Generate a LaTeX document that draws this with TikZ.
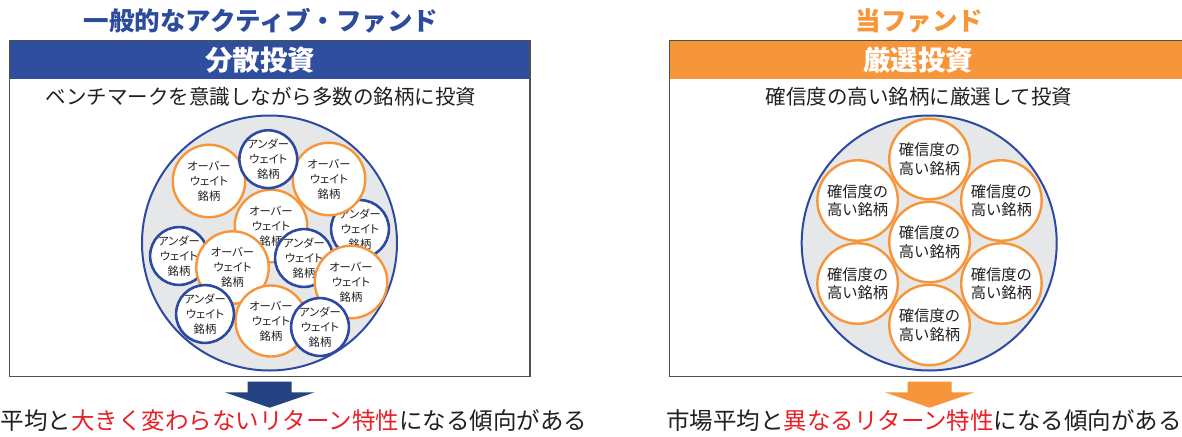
\documentclass[tikz,border=0pt]{standalone}
\usepackage{fontspec}
\setmainfont{Noto Sans CJK JP}
\newfontfamily\cjkp{Noto Sans CJK JP}[RawFeature=+palt]
\definecolor{hblue}{RGB}{47,78,158}
\definecolor{tblue}{RGB}{44,76,155}
\definecolor{ablue}{RGB}{37,66,130}
\definecolor{cblue}{RGB}{45,74,160}
\definecolor{oorange}{RGB}{247,149,58}
\definecolor{cgray}{RGB}{230,231,232}
\definecolor{tred}{RGB}{232,32,40}
\definecolor{frame}{RGB}{80,80,80}
\definecolor{txt}{RGB}{35,31,32}
\begin{document}
\begin{tikzpicture}[x=1pt,y=-1pt,
  framebox/.style={draw=frame, line width=1.3pt},
  ttl/.style={font=\bfseries\fontsize{25.5}{30}\selectfont, inner sep=0},
  hdr/.style={font=\bfseries\fontsize{27.5}{32}\selectfont, text=white, inner sep=0},
  sub/.style={font=\fontsize{20.5}{24}\selectfont, text=txt, inner sep=0},
  res/.style={font=\fontsize{23.5}{28}\selectfont, text=txt, inner sep=0},
  bigc/.style={circle, draw=cblue, fill=cgray, line width=2pt, minimum size=255, inner sep=0},
  under/.style={circle, draw=cblue, fill=white, line width=2.6pt, minimum size=53.5, inner sep=0, align=center, text=txt, font=\cjkp\fontsize{11.3}{15}\selectfont},
  over/.style={circle, draw=oorange, fill=white, line width=2.4pt, minimum size=72.5, inner sep=0, align=center, text=txt, font=\cjkp\fontsize{11.3}{15}\selectfont},
  high/.style={circle, draw=oorange, fill=white, line width=2.4pt, minimum size=80.5, inner sep=0, align=center, text=txt, font=\fontsize{15.3}{18.5}\selectfont}
]
\useasboundingbox (0,0) rectangle (1182,436);
\begin{scope}
\clip (0,0) rectangle (1182,436);

% ---------- left panel ----------
\node[ttl, text=tblue] (ltitle) at (261,21) {一般的なアクティブ・ファンド};
\fill[hblue] (9.3,40.7) rectangle (530,79);
\draw[framebox] (9.3,40.7) rectangle (530,376.7);
\node[hdr] (lhdr) at (260,60.5) {分散投資};
\node[sub] (lsub) at (261,97) {ベンチマークを意識しながら多数の銘柄に投資};

\node[bigc] (lbig) at (269.5,243) {};
\node[under] (u2) at (360,229) {アンダー\\ウェイト\\銘柄};
\node[under] (u3) at (179,256) {アンダー\\ウェイト\\銘柄};
\node[over] (o1) at (209,181) {オーバー\\ウェイト\\銘柄};
\node[over] (o2) at (329,179) {オーバー\\ウェイト\\銘柄};
\node[over] (o3) at (271,226) {オーバー\\ウェイト\\銘柄};
\node[under] (u1) at (268.3,159.2) {アンダー\\ウェイト\\銘柄};
\node[under] (u4) at (304,258) {アンダー\\ウェイト\\銘柄};
\node[over] (o4) at (232.5,267.5) {オーバー\\ウェイト\\銘柄};
\node[over] (o5) at (351,282) {オーバー\\ウェイト\\銘柄};
\node[over, minimum size=71] (o6) at (271,321) {オーバー\\ウェイト\\銘柄};
\node[under] (u5) at (205,314) {アンダー\\ウェイト\\銘柄};
\node[under] (u6) at (320,327) {アンダー\\ウェイト\\銘柄};

\fill[ablue] (247.7,381.7) -- (291.7,381.7) -- (291.7,392.3) -- (314.7,392.3)
  -- (269.7,407.7) -- (224.7,392.3) -- (247.7,392.3) -- cycle;
\node[res] (lres) at (294,421) {平均と{\color{tred}大きく変わらないリターン特性}になる傾向がある};

% ---------- right panel ----------
\node[ttl, text=oorange] (rtitle) at (919.5,21) {当ファンド};
\fill[oorange] (669.3,40.7) rectangle (1195,79);
\draw[framebox] (669.3,40.7) rectangle (1195,376.7);
\node[hdr] (rhdr) at (918,60.5) {厳選投資};
\node[sub] (rsub) at (919,97) {確信度の高い銘柄に厳選して投資};

\node[bigc] (rbig) at (929.2,243) {};
\node[high] (hc) at (929.5,242) {確信度の\\高い銘柄};
\node[high] (ht) at (929.5,159) {確信度の\\高い銘柄};
\node[high] (hb) at (929.5,325) {確信度の\\高い銘柄};
\node[high] (hul) at (857.6,200.5) {確信度の\\高い銘柄};
\node[high] (hur) at (1001.4,200.5) {確信度の\\高い銘柄};
\node[high] (hll) at (857.6,283.5) {確信度の\\高い銘柄};
\node[high] (hlr) at (1001.4,283.5) {確信度の\\高い銘柄};

\fill[oorange] (907.7,381.7) -- (951.7,381.7) -- (951.7,392.3) -- (974.7,392.3)
  -- (929.7,407.7) -- (884.7,392.3) -- (907.7,392.3) -- cycle;
\node[res] (rres) at (924,421) {市場平均と{\color{tred}異なるリターン特性}になる傾向がある};
\end{scope}
\end{tikzpicture}
\end{document}
